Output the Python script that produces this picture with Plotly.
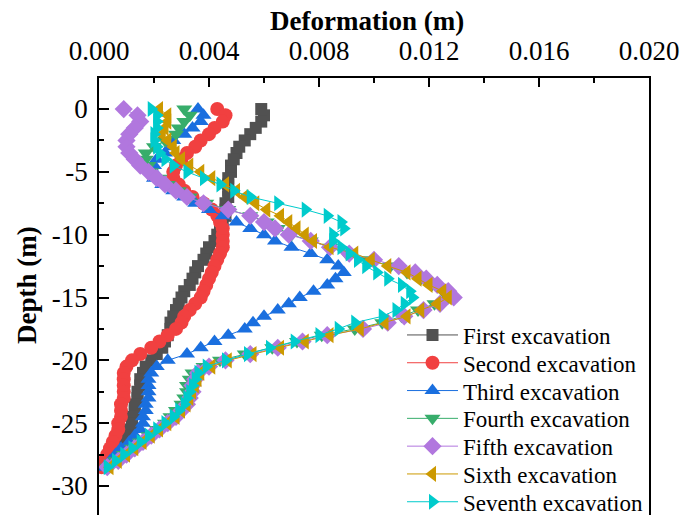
import plotly.graph_objects as go

# ---------------- data ----------------
depth = [0.0, -0.5, -1.0, -1.5, -2.0, -2.5, -3.0, -3.5, -4.0, -4.5,
         -5.0, -5.5, -6.0, -6.5, -7.0, -7.5, -8.0, -8.5, -9.0, -9.5,
         -10.0, -10.5, -11.0, -11.5, -12.0, -12.5, -13.0, -13.5, -14.0, -14.5,
         -15.0, -15.5, -16.0, -16.5, -17.0, -17.5, -18.0, -18.5, -19.0, -19.5,
         -20.0, -20.5, -21.0, -21.5, -22.0, -22.5, -23.0, -23.5, -24.0, -24.5,
         -25.0, -25.5, -26.0, -26.5, -27.0, -27.5, -28.0, -28.5]

first = [0.0059, 0.0060, 0.0059, 0.0057, 0.0055, 0.0053, 0.0051, 0.0050, 0.0049, 0.0048,
         0.0048, 0.0047, 0.0047, 0.0047, 0.0047, 0.0046, 0.0046, 0.0046, 0.0045, 0.0044,
         0.0043, 0.0042, 0.0040, 0.0039, 0.0038, 0.0036, 0.0035, 0.0034, 0.0033, 0.0031,
         0.0030, 0.0029, 0.0028, 0.0027, 0.0026, 0.0026, 0.0025, 0.0024, 0.0023, 0.0021,
         0.0019, 0.0017, 0.0016, 0.0015, 0.0015, 0.0014, 0.0014, 0.0013, 0.0013, 0.0012,
         0.0012, 0.0011, 0.0010, 0.0009, 0.0008, 0.0006, 0.0004, 0.0002]

second = [0.0043, 0.0046, 0.0045, 0.0042, 0.0040, 0.0037, 0.0035, 0.0032, 0.0030, 0.0028,
          0.0027, 0.0027, 0.0029, 0.0031, 0.0034, 0.0038, 0.0041, 0.0043, 0.0044, 0.0045,
          0.0045, 0.0045, 0.0045, 0.0044, 0.0043, 0.0042, 0.0041, 0.0040, 0.0039, 0.0038,
          0.0037, 0.0035, 0.0033, 0.0031, 0.0030, 0.0028, 0.0025, 0.0022, 0.0019, 0.0015,
          0.0012, 0.0010, 0.0009, 0.0009, 0.0009, 0.0009, 0.0009, 0.0008, 0.0008, 0.0008,
          0.0007, 0.0007, 0.0006, 0.0005, 0.0004, 0.0003, 0.0002, 0.0001]

third = [0.0036, 0.0038, 0.0037, 0.0034, 0.0031, 0.0027, 0.0026, 0.0024, 0.0021, 0.0020,
         0.0020, 0.0020, 0.0023, 0.0027, 0.0031, 0.0035, 0.0040, 0.0045, 0.0050, 0.0055,
         0.0060, 0.0064, 0.0070, 0.0077, 0.0083, 0.0087, 0.0089, 0.0086, 0.0083, 0.0078,
         0.0073, 0.0069, 0.0065, 0.0060, 0.0056, 0.0053, 0.0047, 0.0042, 0.0037, 0.0032,
         0.0025, 0.0021, 0.0019, 0.0018, 0.0018, 0.0018, 0.0018, 0.0017, 0.0017, 0.0016,
         0.0016, 0.0015, 0.0013, 0.0011, 0.0008, 0.0006, 0.0004, 0.0002]

fourth = [0.0031, 0.0033, 0.0031, 0.0029, 0.0028, 0.0024, 0.0020, 0.0017, 0.0017, 0.0018,
          0.0019, 0.0022, 0.0025, 0.0029, 0.0033, 0.0039, 0.0047, 0.0055, 0.0061, 0.0065,
          0.0070, 0.0077, 0.0084, 0.0090, 0.0098, 0.0106, 0.0112, 0.0117, 0.0121, 0.0125,
          0.0127, 0.0122, 0.0116, 0.0110, 0.0103, 0.0093, 0.0081, 0.0072, 0.0063, 0.0053,
          0.0044, 0.0038, 0.0034, 0.0033, 0.0032, 0.0032, 0.0031, 0.0030, 0.0028, 0.0026,
          0.0024, 0.0021, 0.0018, 0.0015, 0.0012, 0.0009, 0.0006, 0.0003]

fifth = [0.0009, 0.0014, 0.0015, 0.0013, 0.0011, 0.0010, 0.0010, 0.0011, 0.0013, 0.0015,
         0.0018, 0.0021, 0.0024, 0.0028, 0.0032, 0.0038, 0.0047, 0.0055, 0.0060, 0.0064,
         0.0069, 0.0077, 0.0084, 0.0091, 0.0100, 0.0109, 0.0115, 0.0119, 0.0123, 0.0127,
         0.0129, 0.0124, 0.0118, 0.0111, 0.0105, 0.0096, 0.0083, 0.0074, 0.0065, 0.0055,
         0.0046, 0.0040, 0.0036, 0.0035, 0.0034, 0.0034, 0.0033, 0.0032, 0.0030, 0.0028,
         0.0025, 0.0022, 0.0019, 0.0016, 0.0013, 0.0010, 0.0007, 0.0003]

sixth = [0.0022, 0.0025, 0.0025, 0.0024, 0.0023, 0.0025, 0.0027, 0.0028, 0.0030, 0.0033,
         0.0037, 0.0041, 0.0046, 0.0050, 0.0053, 0.0057, 0.0061, 0.0066, 0.0069, 0.0072,
         0.0075, 0.0078, 0.0084, 0.0093, 0.0099, 0.0105, 0.0112, 0.0116, 0.0120, 0.0125,
         0.0127, 0.0123, 0.0117, 0.0112, 0.0104, 0.0095, 0.0084, 0.0075, 0.0066, 0.0056,
         0.0047, 0.0041, 0.0037, 0.0036, 0.0035, 0.0034, 0.0033, 0.0032, 0.0030, 0.0028,
         0.0025, 0.0022, 0.0019, 0.0016, 0.0013, 0.0010, 0.0007, 0.0004]

seventh = [0.0019, 0.0021, 0.0021, 0.0021, 0.0020, 0.0020, 0.0021, 0.0022, 0.0024, 0.0027,
           0.0032, 0.0038, 0.0044, 0.0049, 0.0055, 0.0065, 0.0075, 0.0083, 0.0088, 0.0089,
           0.0085, 0.0085, 0.0088, 0.0091, 0.0094, 0.0097, 0.0101, 0.0105, 0.0110, 0.0113,
           0.0114, 0.0111, 0.0108, 0.0103, 0.0093, 0.0087, 0.0080, 0.0071, 0.0062, 0.0054,
           0.0046, 0.0039, 0.0036, 0.0035, 0.0034, 0.0033, 0.0032, 0.0031, 0.0029, 0.0027,
           0.0024, 0.0021, 0.0018, 0.0015, 0.0012, 0.0009, 0.0006, 0.0003]

series_names = ["First excavation", "Second excavation", "Third excavation",
                "Fourth excavation", "Fifth excavation", "Sixth excavation",
                "Seventh excavation"]
series_values = [first, second, third, fourth, fifth, sixth, seventh]

y_tick_vals = [0, -5, -10, -15, -20, -25, -30]
y_tick_text = ["0", "-5", "-10", "-15", "-20", "-25", "-30"]

# ---------------- styles ----------------
colors = ["#515151", "#F14040", "#1A6FDF", "#37AD6B", "#B177DE", "#CC9900", "#00CBCC"]
symbols = ["square", "circle", "triangle-up", "triangle-down", "diamond",
           "triangle-left", "triangle-right"]
sizes = [12, 14, 14, 14, 14, 14, 14]

FONT = "Liberation Serif, Times New Roman, serif"

W, H = 681, 515
L, R, T, B = 99, 32, 78, 0
PW, PH = W - L - R, H - T - B

def px_x(p):
    return (p - L) / PW

def px_y(p):
    return (H - B - p) / PH

fig = go.Figure()
legend_layout = {}
for i, (name, vals) in enumerate(zip(series_names, series_values)):
    lname = "legend" if i == 0 else f"legend{i + 1}"
    fig.add_trace(go.Scatter(
        x=vals, y=depth, name=name, mode="lines+markers",
        line=dict(color=colors[i], width=1),
        marker=dict(symbol=symbols[i], size=sizes[i], color=colors[i],
                    line=dict(width=0)),
        legend=lname,
    ))
    legend_layout[lname] = dict(
        x=px_x(402), y=px_y(335 + 27.8 * i), xanchor="left", yanchor="middle",
        bgcolor="rgba(0,0,0,0)", borderwidth=0,
        font=dict(family=FONT, size=23, color="#000"),
        itemwidth=51,
    )

fig.update_layout(
    width=W, height=H,
    margin=dict(l=L, r=R, t=T, b=B, pad=0, autoexpand=False),
    plot_bgcolor="white", paper_bgcolor="white",
    font=dict(family=FONT, size=27, color="#000"),
    showlegend=True,
    **legend_layout,
)

fig.update_xaxes(
    side="top", range=[0, 0.020], dtick=0.004, tick0=0, tickformat=".3f",
    showgrid=False, zeroline=False,
    showline=True, linecolor="black", linewidth=1.5, mirror=False,
    ticks="inside", ticklen=9, tickwidth=1.5, tickcolor="black",
    minor=dict(dtick=0.002, tick0=0, ticks="inside", ticklen=5,
               tickwidth=1.5, tickcolor="black", showgrid=False),
    tickfont=dict(family=FONT, size=27),
    ticklabelstandoff=5,
)
fig.update_yaxes(
    range=[-32.31, 2.47], tickmode="array", tickvals=y_tick_vals,
    ticktext=y_tick_text,
    showgrid=False, zeroline=False,
    showline=True, linecolor="black", linewidth=1.5, mirror=True,
    ticks="inside", ticklen=10, tickwidth=1.5, tickcolor="black",
    minor=dict(dtick=2.5, tick0=0, ticks="inside", ticklen=5,
               tickwidth=1.5, tickcolor="black", showgrid=False),
    tickfont=dict(family=FONT, size=27),
    ticklabelstandoff=4,
)

fig.add_annotation(
    text="<b>Deformation (m)</b>", xref="paper", yref="paper",
    x=px_x(367), y=px_y(21), xanchor="center", yanchor="middle",
    showarrow=False, font=dict(family=FONT, size=27, color="#000"),
)
fig.add_annotation(
    text="<b>Depth (m)</b>", xref="paper", yref="paper", textangle=-90,
    x=px_x(27), y=px_y(285), xanchor="center", yanchor="middle",
    showarrow=False, font=dict(family=FONT, size=27, color="#000"),
)

fig.write_html("out.html")
